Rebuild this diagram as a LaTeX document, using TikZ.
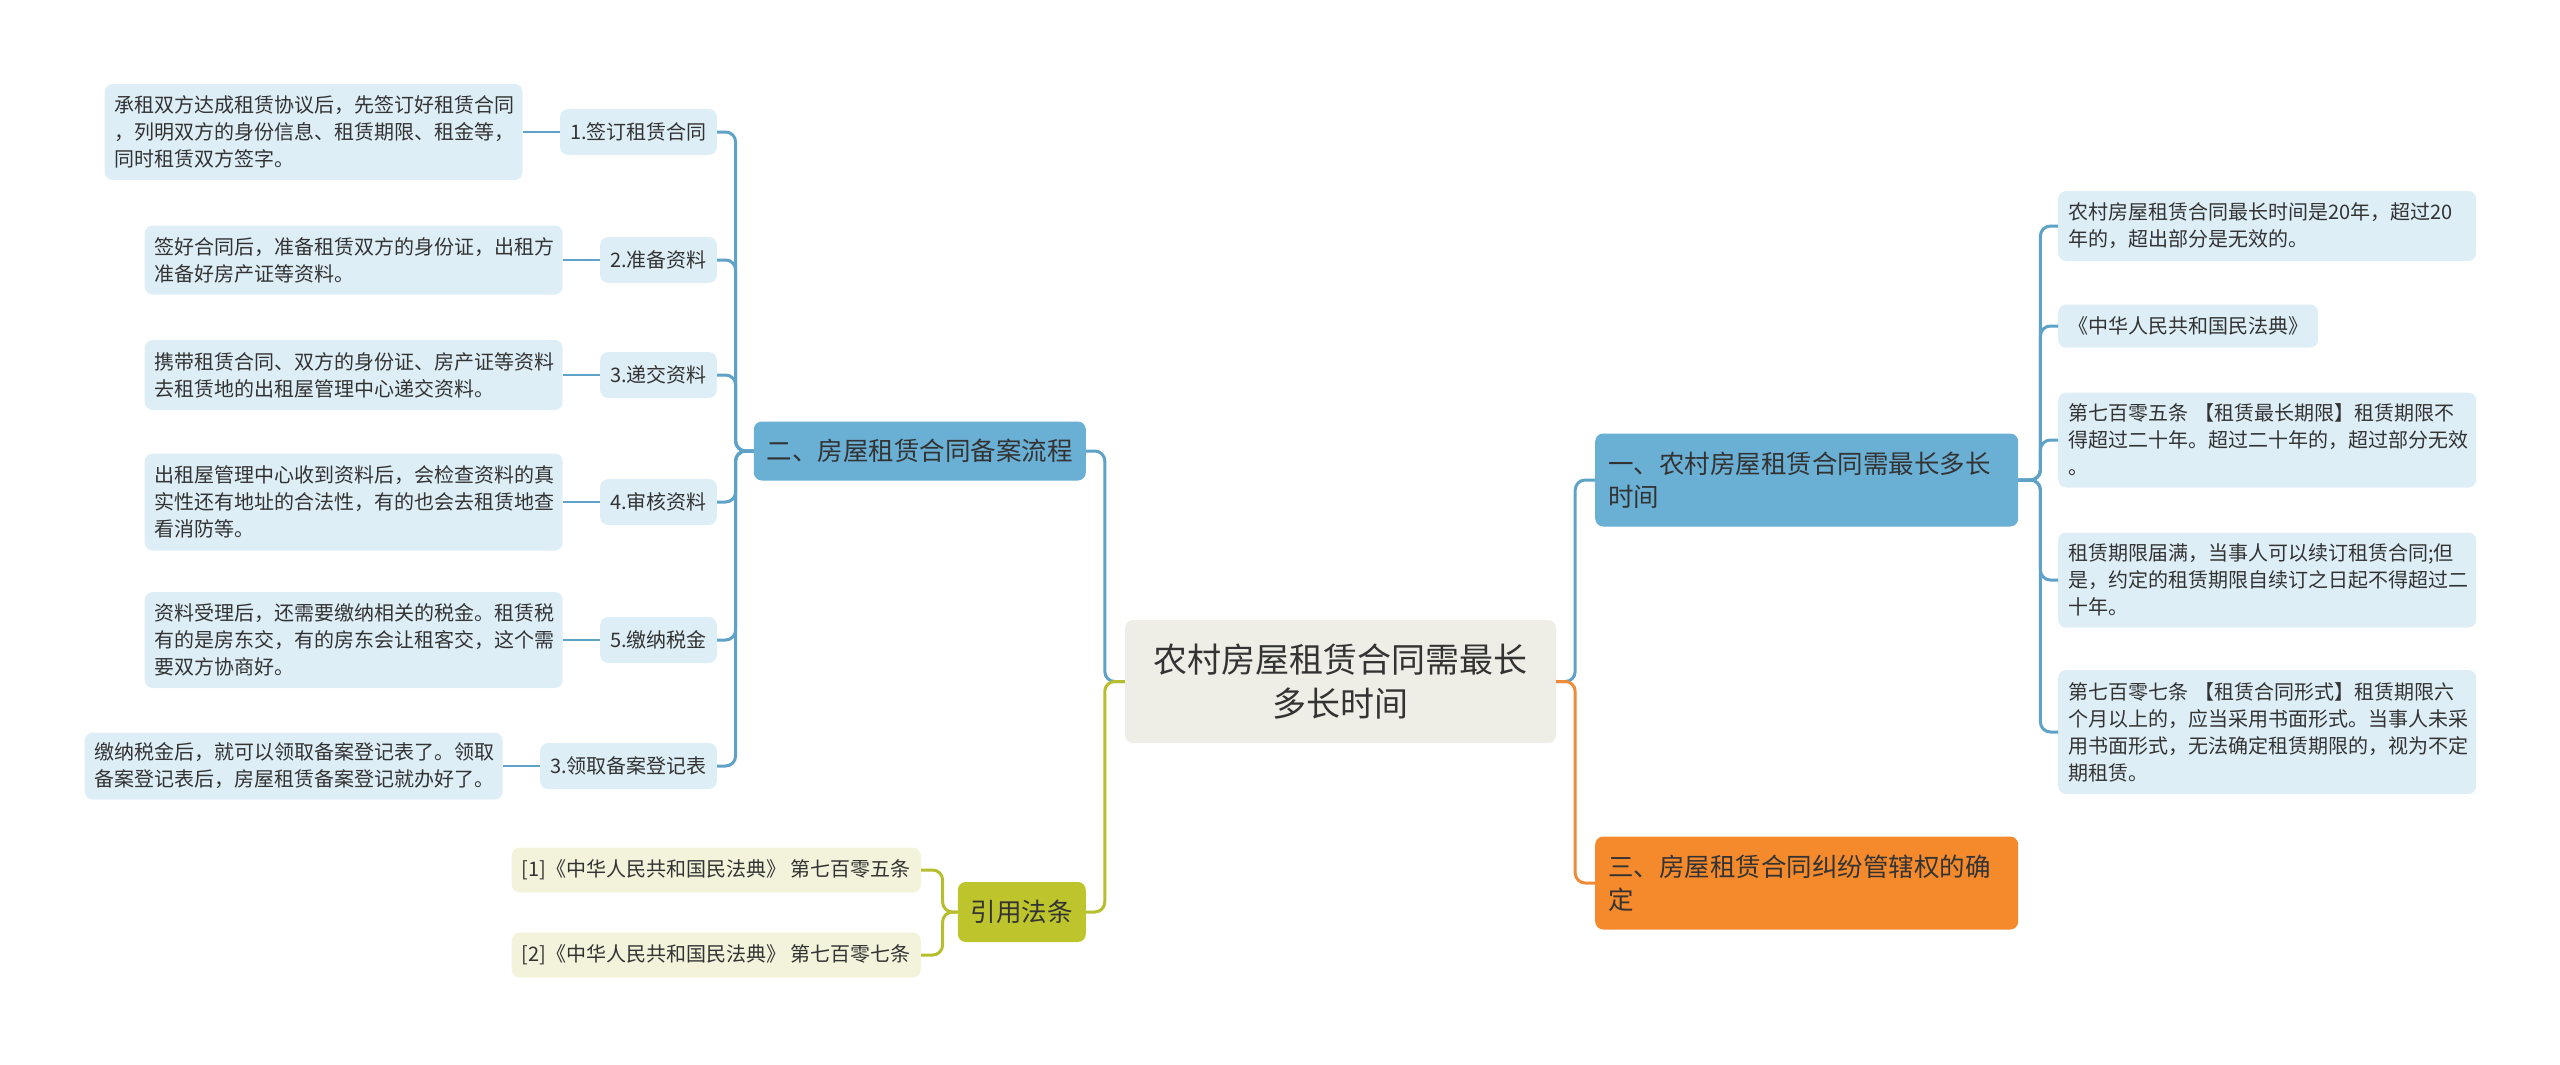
\documentclass[tikz,border=0pt]{standalone}
\usepackage{fontspec}
\setmainfont{Noto Sans CJK SC}
\usetikzlibrary{positioning}

\definecolor{rootfill}{HTML}{EEEEE7}
\definecolor{topblue}{HTML}{6AAFD4}
\definecolor{leafblue}{HTML}{DEEEF7}
\definecolor{lineblue}{HTML}{5FA2C8}
\definecolor{toporange}{HTML}{F48A2C}
\definecolor{lineorange}{HTML}{EE8B36}
\definecolor{topolive}{HTML}{BEC42B}
\definecolor{leafolive}{HTML}{F3F3DC}
\definecolor{lineolive}{HTML}{B7BE2E}
\definecolor{txt}{HTML}{333333}

\begin{document}
\begin{tikzpicture}[x=1pt, y=-1pt,
    box/.style={rounded corners=8pt, text=txt, inner xsep=10pt, inner ysep=3pt},
    rootnode/.style={box, fill=rootfill, minimum width=431pt, minimum height=123pt,
        align=center, font=\fontsize{34pt}{44pt}\selectfont},
    topic/.style={box, fill=topblue, inner xsep=13pt, minimum height=59pt,
        align=left, font=\fontsize{25.5pt}{33pt}\selectfont},
    sub/.style={box, fill=leafblue, minimum height=46pt, font=\fontsize{20pt}{27pt}\selectfont},
    leafbase/.style={box, fill=leafblue, align=left, font=\fontsize{20pt}{27pt}\selectfont},
    leaf/.style={leafbase, text width=398pt},
    cite/.style={box, fill=leafolive, minimum width=408pt, minimum height=45pt,
        font=\fontsize{20pt}{27pt}\selectfont},
    conn/.style={line width=3pt, rounded corners=10pt},
    thinconn/.style={line width=2.5pt, lineblue}]
    \useasboundingbox (0,0) rectangle (2560,1065);

    % centre and main topics
    \node[rootnode] (root) at (1340.5,681.5) {农村房屋租赁合同需最长\\多长时间};
    \node[topic, anchor=east] (b2) at (1086,451) {二、房屋租赁合同备案流程};
    \node[topic, fill=topolive, anchor=east, minimum height=60pt] (law) at (1086,912) {引用法条};
    \node[topic, anchor=west, text width=397pt, minimum height=93pt] (b1) at (1595,480)
        {一、农村房屋租赁合同需最长多长\\时间};
    \node[topic, fill=toporange, anchor=west, text width=397pt, minimum height=93pt] (b3) at (1595,883)
        {三、房屋租赁合同纠纷管辖权的确\\定};

    % steps of the filing
    \node[sub, anchor=east] (s1) at (717,132) {1.签订租赁合同};
    \node[sub, anchor=east] (s2) at (717,260) {2.准备资料};
    \node[sub, anchor=east] (s3) at (717,375) {3.递交资料};
    \node[sub, anchor=east] (s4) at (717,502) {4.审核资料};
    \node[sub, anchor=east] (s5) at (717,640) {5.缴纳税金};
    \node[sub, anchor=east] (s6) at (717,766) {3.领取备案登记表};

    \node[leaf, minimum height=96pt] (l1) [left=37pt of s1]
        {承租双方达成租赁协议后，先签订好租赁合同\\，列明双方的身份信息、租赁期限、租金等，\\同时租赁双方签字。};
    \node[leaf, minimum height=69pt] (l2) [left=37pt of s2]
        {签好合同后，准备租赁双方的身份证，出租方\\准备好房产证等资料。};
    \node[leaf, minimum height=70pt] (l3) [left=37pt of s3]
        {携带租赁合同、双方的身份证、房产证等资料\\去租赁地的出租屋管理中心递交资料。};
    \node[leaf, minimum height=97pt] (l4) [left=37pt of s4]
        {出租屋管理中心收到资料后，会检查资料的真\\实性还有地址的合法性，有的也会去租赁地查\\看消防等。};
    \node[leaf, minimum height=96pt] (l5) [left=37pt of s5]
        {资料受理后，还需要缴纳相关的税金。租赁税\\有的是房东交，有的房东会让租客交，这个需\\要双方协商好。};
    \node[leaf, minimum height=67pt] (l6) [left=37pt of s6]
        {缴纳税金后，就可以领取备案登记表了。领取\\备案登记表后，房屋租赁备案登记就办好了。};

    % cited articles
    \node[cite, anchor=east] (c1) at (921,870) {[1]《中华人民共和国民法典》 第七百零五条};
    \node[cite, anchor=east] (c2) at (921,955) {[2]《中华人民共和国民法典》 第七百零七条};

    % right side
    \node[leaf, anchor=west, minimum height=70pt] (r1) at (2058,226)
        {农村房屋租赁合同最长时间是20年，超过20\\年的，超出部分是无效的。};
    \node[leafbase, anchor=west, minimum height=43pt] (r2) at (2058,326)
        {《中华人民共和国民法典》};
    \node[leaf, anchor=west, minimum height=95pt] (r3) at (2058,440)
        {第七百零五条 【租赁最长期限】租赁期限不\\得超过二十年。超过二十年的，超过部分无效\\。};
    \node[leaf, anchor=west, minimum height=95pt] (r4) at (2058,580)
        {租赁期限届满，当事人可以续订租赁合同;但\\是，约定的租赁期限自续订之日起不得超过二\\十年。};
    \node[leaf, anchor=west, minimum height=124pt] (r5) at (2058,732)
        {第七百零七条 【租赁合同形式】租赁期限六\\个月以上的，应当采用书面形式。当事人未采\\用书面形式，无法确定租赁期限的，视为不定\\期租赁。};

    % connectors
    \draw[conn, lineblue] (root.west) -- ++(-20,0) |- (b2.east);
    \draw[conn, lineolive] (root.west) -- ++(-20,0) |- (law.east);
    \draw[conn, lineblue] (root.east) -- ++(19,0) |- (b1.west);
    \draw[conn, lineorange] (root.east) -- ++(19,0) |- (b3.west);
    \foreach \n in {s1,s2,s3,s4,s5,s6}
        \draw[conn, lineblue] (b2.west) -- ++(-18,0) |- (\n.east);
    \foreach \i in {1,...,6}
        \draw[thinconn] (s\i.west) -- (l\i.east);
    \foreach \n in {c1,c2}
        \draw[conn, lineolive] (law.west) -- ++(-15,0) |- (\n.east);
    \foreach \n in {r1,r2,r3,r4,r5}
        \draw[conn, lineblue] (b1.east) -- ++(22,0) |- (\n.west);
\end{tikzpicture}
\end{document}
